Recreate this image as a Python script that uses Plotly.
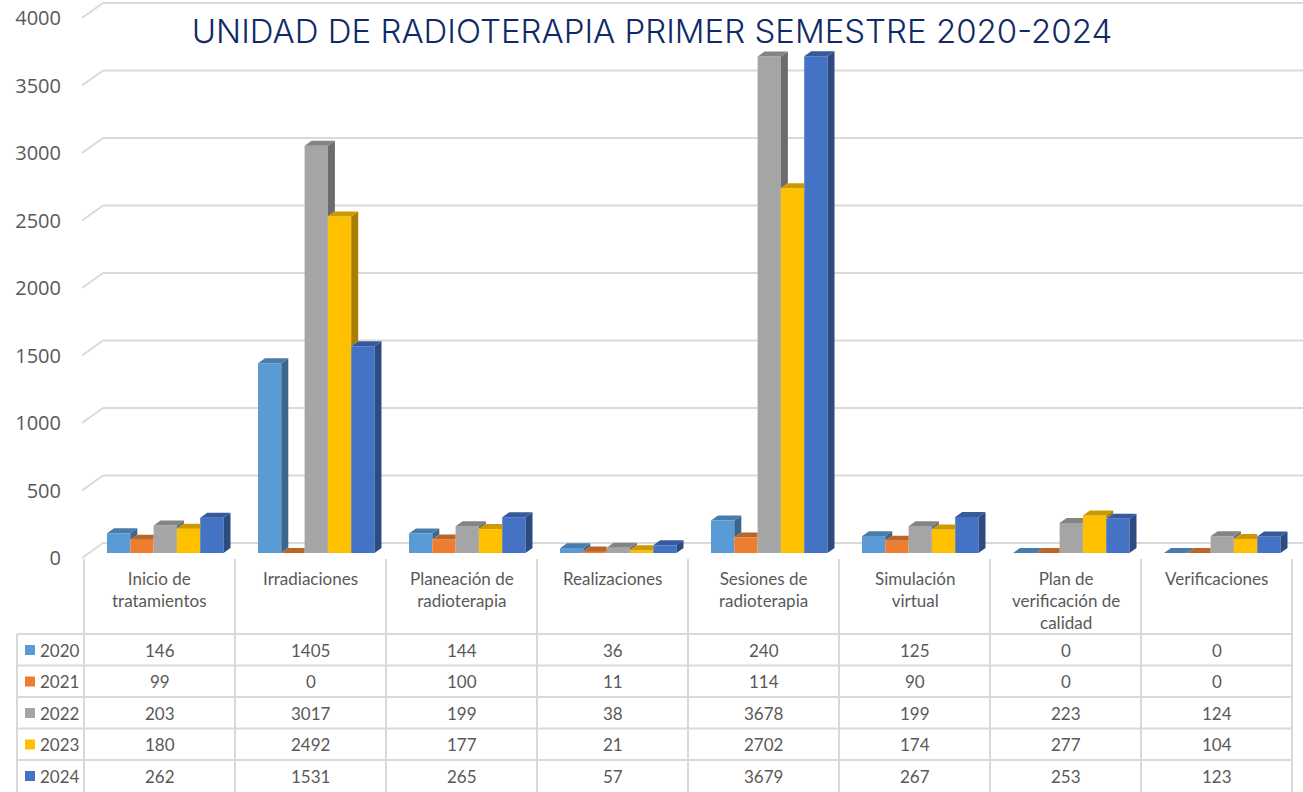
import plotly.graph_objects as go

# ---------------- data ----------------
categories = [
    "Inicio de<br>tratamientos",
    "Irradiaciones",
    "Planeación de<br>radioterapia",
    "Realizaciones",
    "Sesiones de<br>radioterapia",
    "Simulación<br>virtual",
    "Plan de<br>verificación de<br>calidad",
    "Verificaciones",
]
years = ["2020", "2021", "2022", "2023", "2024"]
v2020 = [146, 1405, 144, 36, 240, 125, 0, 0]
v2021 = [99, 0, 100, 11, 114, 90, 0, 0]
v2022 = [203, 3017, 199, 38, 3678, 199, 223, 124]
v2023 = [180, 2492, 177, 21, 2702, 174, 277, 104]
v2024 = [262, 1531, 265, 57, 3679, 267, 253, 123]
series = [v2020, v2021, v2022, v2023, v2024]
y_ticks = [0, 500, 1000, 1500, 2000, 2500, 3000, 3500, 4000]
title_text = "UNIDAD DE RADIOTERAPIA PRIMER SEMESTRE 2020-2024"

# ---------------- style / layout ----------------
colors = ["#5B9BD5", "#ED7D31", "#A5A5A5", "#FFC000", "#4472C4"]
W, H = 1303, 792
CAT_PX = 151.0          # pixel width of one category column
CAT0_LEFT = 84.0        # pixel x of left edge of first column
VAL_PX = 0.135          # pixels per data unit
BASE_PX = 553.0         # pixel y of bar base
FRONT_PX = 558.0        # pixel y of value 0 on the front plane
BACK_PX = 543.0         # pixel y of value 0 on the back wall
GRID_COL = "#D9D9D9"
TXT_COL = "#595959"


def ux(px):  # pixel x -> category units
    return (px - CAT0_LEFT) / CAT_PX - 0.5


def pyp(py):  # pixel y -> paper
    return 1 - py / H


bar_w = 23.3 / CAT_PX
bar_off = ux(107)
dx = 7.0 / CAT_PX
dy = 5.0 / VAL_PX
front_off = (BASE_PX - FRONT_PX) / VAL_PX   # shift of front plane in data units
back_off = (BASE_PX - BACK_PX) / VAL_PX     # shift of back wall in data units


def shade(hexc, f):
    h = hexc.lstrip("#")
    r, g, b = (int(h[i:i + 2], 16) for i in (0, 2, 4))
    return "rgb(%d,%d,%d)" % (r * f, g * f, b * f)


fig = go.Figure()

# front faces as real bars
for s, (yr, vals) in enumerate(zip(years, series)):
    fig.add_trace(go.Bar(
        x=list(range(len(categories))), y=vals, name=yr,
        width=bar_w, offset=bar_off + s * bar_w,
        marker=dict(color=colors[s], line=dict(width=0)),
        showlegend=False, hoverinfo="skip",
    ))

# top and side faces (visible parts only)
for s, vals in enumerate(series):
    tx, ty, sx, sy = [], [], [], []
    for i, v in enumerate(vals):
        x0 = i + bar_off + s * bar_w
        x1 = x0 + bar_w
        nxt = series[s + 1][i] if s < len(series) - 1 else None
        # top face
        if nxt is not None and nxt > v:
            tx += [x0, x1, x1, x0 + dx, x0, None]
            ty += [v, v, v + dy, v + dy, v, None]
        else:
            tx += [x0, x1, x1 + dx, x0 + dx, x0, None]
            ty += [v, v, v + dy, v + dy, v, None]
        # side face
        lo = 0 if nxt is None else nxt
        if nxt is None or nxt < v:
            sx += [x1, x1, x1 + dx, x1 + dx, x1, None]
            sy += [lo, v, v + dy, lo + dy, lo, None]
    fig.add_trace(go.Scatter(x=sx, y=sy, mode="lines", fill="toself",
                             fillcolor=shade(colors[s], 0.66), line=dict(width=0),
                             showlegend=False, hoverinfo="skip"))
    fig.add_trace(go.Scatter(x=tx, y=ty, mode="lines", fill="toself",
                             fillcolor=shade(colors[s], 0.80), line=dict(width=0),
                             showlegend=False, hoverinfo="skip"))

# invisible trace to carry the tick-label axis
fig.add_trace(go.Scatter(x=[0], y=[0], yaxis="y2", mode="markers",
                         marker=dict(opacity=0), showlegend=False, hoverinfo="skip"))

shapes = []
# back wall gridlines + left diagonals
for t in y_ticks:
    shapes.append(dict(type="line", xref="x", yref="y", layer="below",
                       x0=ux(103), x1=ux(W + 5), y0=t + back_off, y1=t + back_off,
                       line=dict(color=GRID_COL, width=2)))
    shapes.append(dict(type="line", xref="x", yref="y", layer="below",
                       x0=ux(82), x1=ux(103), y0=t + front_off, y1=t + back_off,
                       line=dict(color=GRID_COL, width=2)))

# data table lines
row_lines = [634, 665.5, 697, 728.5, 760]
for ry in row_lines:
    shapes.append(dict(type="line", xref="x", yref="paper",
                       x0=ux(17), x1=len(categories) - 0.5, y0=pyp(ry), y1=pyp(ry),
                       line=dict(color=GRID_COL, width=2)))
shapes.append(dict(type="line", xref="x", yref="paper", x0=ux(17), x1=ux(17),
                   y0=pyp(634), y1=pyp(H + 5), line=dict(color=GRID_COL, width=2)))
for k in range(len(categories) + 1):
    shapes.append(dict(type="line", xref="x", yref="paper", x0=k - 0.5, x1=k - 0.5,
                       y0=pyp(559), y1=pyp(H + 5), line=dict(color=GRID_COL, width=2)))

annotations = []
# category headers
for i, c in enumerate(categories):
    annotations.append(dict(xref="x", yref="paper", x=i, y=pyp(566), yanchor="top",
                            xanchor="center", text=c, showarrow=False, align="center",
                            font=dict(family="Lato", size=17, color=TXT_COL)))
# rows
row_centers = [650, 681.5, 713, 744.5, 776]
for s, (yr, vals) in enumerate(zip(years, series)):
    yc = pyp(row_centers[s])
    shapes.append(dict(type="rect", xref="paper", yref="paper",
                       x0=25 / W, x1=35 / W, y0=yc - 5 / H, y1=yc + 5 / H,
                       fillcolor=colors[s], line=dict(width=0)))
    annotations.append(dict(xref="paper", yref="paper", x=38 / W, y=yc,
                            xanchor="left", yanchor="middle", text=yr, showarrow=False,
                            font=dict(family="Lato", size=17, color=TXT_COL)))
    for i, v in enumerate(vals):
        annotations.append(dict(xref="x", yref="paper", x=i, y=yc, xanchor="center",
                                yanchor="middle", text=f"{v}", showarrow=False,
                                font=dict(family="Lato", size=17, color=TXT_COL)))

fig.update_layout(
    width=W, height=H,
    margin=dict(l=0, r=0, t=0, b=0),
    paper_bgcolor="white", plot_bgcolor="white",
    barmode="overlay",
    showlegend=False,
    title=dict(text=title_text, x=652 / W, xanchor="center", y=1 - 31 / H,
               yanchor="middle", yref="container",
               font=dict(family="Inter", size=33, weight=300, color="#0F2A66")),
    xaxis=dict(range=[ux(0), ux(W)], visible=False, fixedrange=True),
    yaxis=dict(range=[(BASE_PX - H) / VAL_PX, BASE_PX / VAL_PX], visible=False,
               fixedrange=True),
    yaxis2=dict(range=[(FRONT_PX - H) / VAL_PX, FRONT_PX / VAL_PX], overlaying="y",
                anchor="free", side="left", position=61 / W,
                tickmode="array", tickvals=y_ticks, ticktext=[str(t) for t in y_ticks],
                showgrid=False, zeroline=False, showline=False, ticks="",
                tickfont=dict(family="Open Sans", size=20, color=TXT_COL),
                fixedrange=True),
    shapes=shapes,
    annotations=annotations,
)

fig.write_html("out.html", config={"displayModeBar": False},
               post_script="document.body.style.margin='0';document.body.style.padding='0';")
